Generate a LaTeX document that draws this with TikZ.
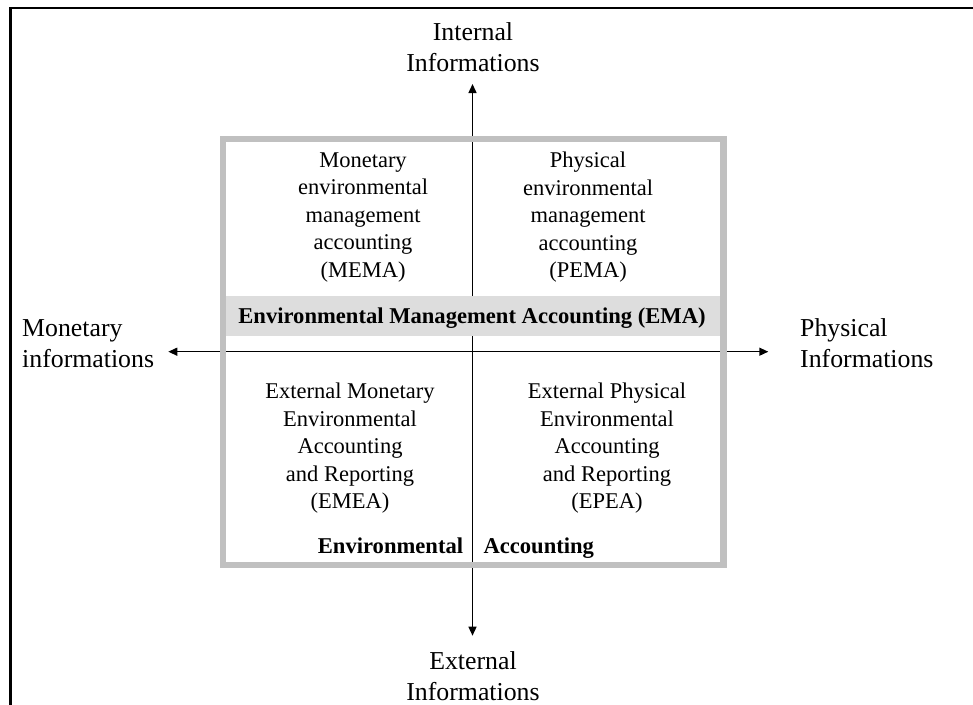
\documentclass[tikz,border=0pt]{standalone}
\usepackage{fontspec}
\setmainfont{Liberation Serif}
\usetikzlibrary{arrows.meta}
\definecolor{boxgray}{HTML}{C0C0C0}
\definecolor{bargray}{HTML}{DDDDDD}
\begin{document}
\begin{tikzpicture}[x=1pt,y=-1pt,
  arr/.style={-{Triangle[length=9pt,width=8pt]}, line width=1.4pt},
  quad/.style={align=center, inner sep=0pt, font=\fontsize{22.5}{27.5}\selectfont},
  outer/.style={inner sep=0pt, font=\fontsize{25.8}{31}\selectfont},
  boldlbl/.style={inner sep=0pt, font=\fontsize{22.6}{27}\selectfont\bfseries},
  frameline/.style={line width=2.3pt, black},
  boxline/.style={line width=6.5pt, boxgray}]
\useasboundingbox (0,0) rectangle (973,704);
% outer frame (only left and top visible)
\draw[frameline] (10.5,712) -- (10.5,7.7) -- (985,7.7);
% axes
\coordinate (o) at (472.5,351.7);
\coordinate (up) at (472.5,84);
\coordinate (down) at (472.5,635.7);
\coordinate (left) at (168.3,351.7);
\coordinate (right) at (768.3,351.7);
\draw[arr] (o) -- (up);
\draw[arr] (o) -- (down);
\draw[arr] (o) -- (left);
\draw[arr] (o) -- (right);
% EMA bar
\node[fill=bargray, inner sep=0pt, minimum width=500pt, minimum height=40pt] (bar) at (472,316) {};
% gray box
\draw[boxline] (223,139) rectangle (723.5,565);
% labels
\node[boldlbl, anchor=base] (ema) at (472,323.3) {Environmental Management Accounting (EMA)};
\node[boldlbl, anchor=base east] (ea1) at (463.3,553.3) {Environmental};
\node[boldlbl, anchor=base west] (ea2) at (483.3,553.3) {Accounting};
\node[quad] (mema) at (363,217.2) {Monetary\\environmental\\management\\accounting\\(MEMA)};
\node[quad] (pema) at (588,217.2) {Physical\\environmental\\management\\accounting\\(PEMA)};
\node[quad] (emea) at (350,448.4) {External Monetary\\Environmental\\Accounting\\and Reporting\\(EMEA)};
\node[quad] (epea) at (607,448.4) {External Physical\\Environmental\\Accounting\\and Reporting\\(EPEA)};
\node[outer, align=center] (internal) at (473,46.8) {Internal\\Informations};
\node[outer, align=center] (external) at (473,676) {External\\Informations};
\node[outer, align=left, anchor=west] (monetary) at (22,343.4) {Monetary\\informations};
\node[outer, align=left, anchor=west] (physical) at (800,343.5) {Physical\\Informations};
\end{tikzpicture}
\end{document}
